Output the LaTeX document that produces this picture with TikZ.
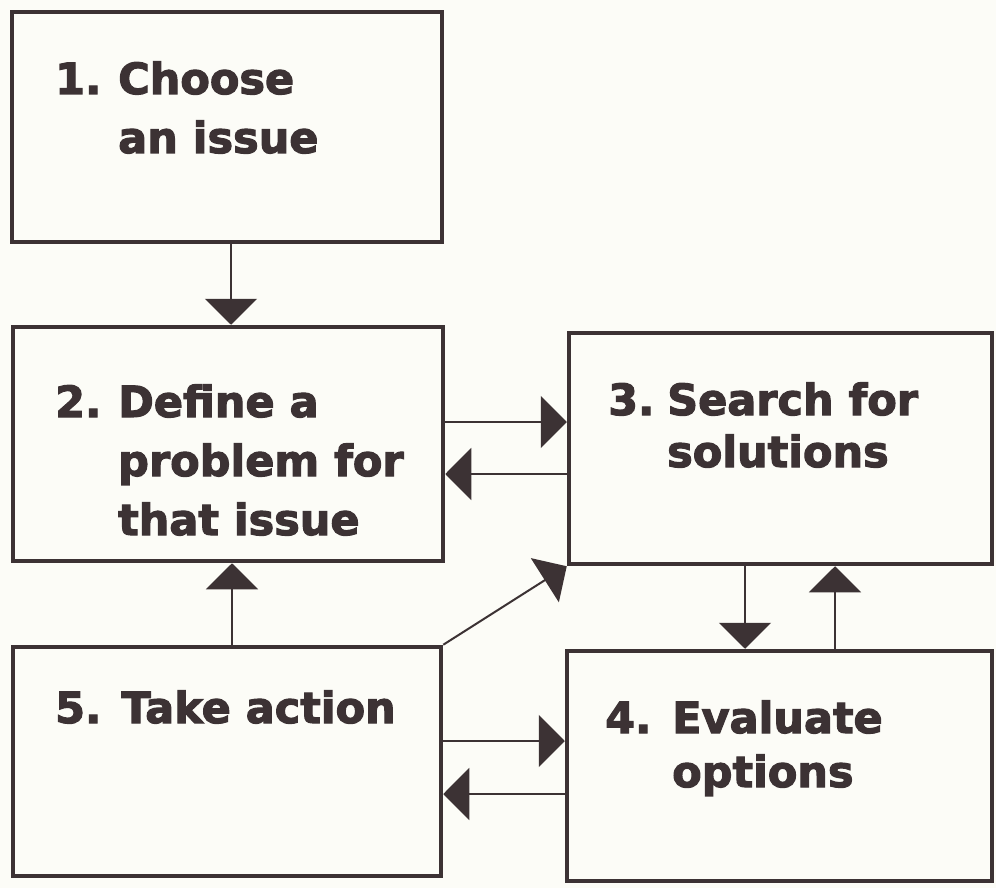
\documentclass[tikz,border=0pt]{standalone}
\usepackage{fontspec}
\setmainfont{DejaVu Sans}[BoldFeatures={FakeBold=2.6}]
\usetikzlibrary{arrows.meta}
\definecolor{ink}{RGB}{60,50,52}
\definecolor{paper}{RGB}{252,252,247}
\begin{document}
\begin{tikzpicture}[x=1pt,y=-1pt,
  box/.style={draw=ink, line width=4.5pt, fill=paper, rectangle, inner sep=0pt},
  conn/.style={draw=ink, line width=2pt, -{Triangle[length=26pt,width=52pt]}},
  lbl/.style={text=ink, font=\bfseries, inner sep=0pt, anchor=base west}]
\useasboundingbox (0,0) rectangle (996,888);
\fill[paper] (0,0) rectangle (996,888);
% boxes
\node[box, minimum width=430pt, minimum height=230pt] (b1) at (227,127) {};
\node[box, minimum width=430pt, minimum height=234pt] (b2) at (228,444) {};
\node[box, minimum width=423pt, minimum height=231pt] (b3) at (780.5,448.5) {};
\node[box, minimum width=425pt, minimum height=230pt] (b4) at (779.5,766) {};
\node[box, minimum width=428pt, minimum height=229pt] (b5) at (227,761.5) {};
% labels
\node[lbl] (t1) at (55,94) {\fontsize{43}{59}\selectfont\begin{tabular}[t]{@{}l@{}l@{}}\makebox[63pt][l]{1.}&Choose\\&an issue\end{tabular}};
\node[lbl] (t2) at (55,417) {\fontsize{43}{59}\selectfont\begin{tabular}[t]{@{}l@{}l@{}}\makebox[63pt][l]{2.}&Define a\\&problem for\\&that issue\end{tabular}};
\node[lbl] (t3) at (608,415) {\fontsize{43}{52}\selectfont\begin{tabular}[t]{@{}l@{}l@{}}\makebox[59pt][l]{3.}&Search for\\&solutions\end{tabular}};
\node[lbl] (t4) at (605,733) {\fontsize{43}{54}\selectfont\begin{tabular}[t]{@{}l@{}l@{}}\makebox[67pt][l]{4.}&Evaluate\\&options\end{tabular}};
\node[lbl] (t5) at (55,723) {\fontsize{43}{59}\selectfont 5. Take action};
% connectors
\draw[conn] (b1.south -| 231,0) -- (b2.north -| 231,0);
\draw[conn] (b2.east |- 0,422) -- (b3.west |- 0,422);
\draw[conn] (b3.west |- 0,474) -- (b2.east |- 0,474);
\draw[conn] (b5.north -| 232,0) -- (b2.south -| 232,0);
\draw[conn] (b5.north east) -- (b3.south west);
\draw[conn] (b3.south -| 745,0) -- (b4.north -| 745,0);
\draw[conn] (b4.north -| 835,0) -- (b3.south -| 835,0);
\draw[conn] (b5.east |- 0,741) -- (b4.west |- 0,741);
\draw[conn] (b4.west |- 0,794) -- (b5.east |- 0,794);
\end{tikzpicture}
\end{document}
